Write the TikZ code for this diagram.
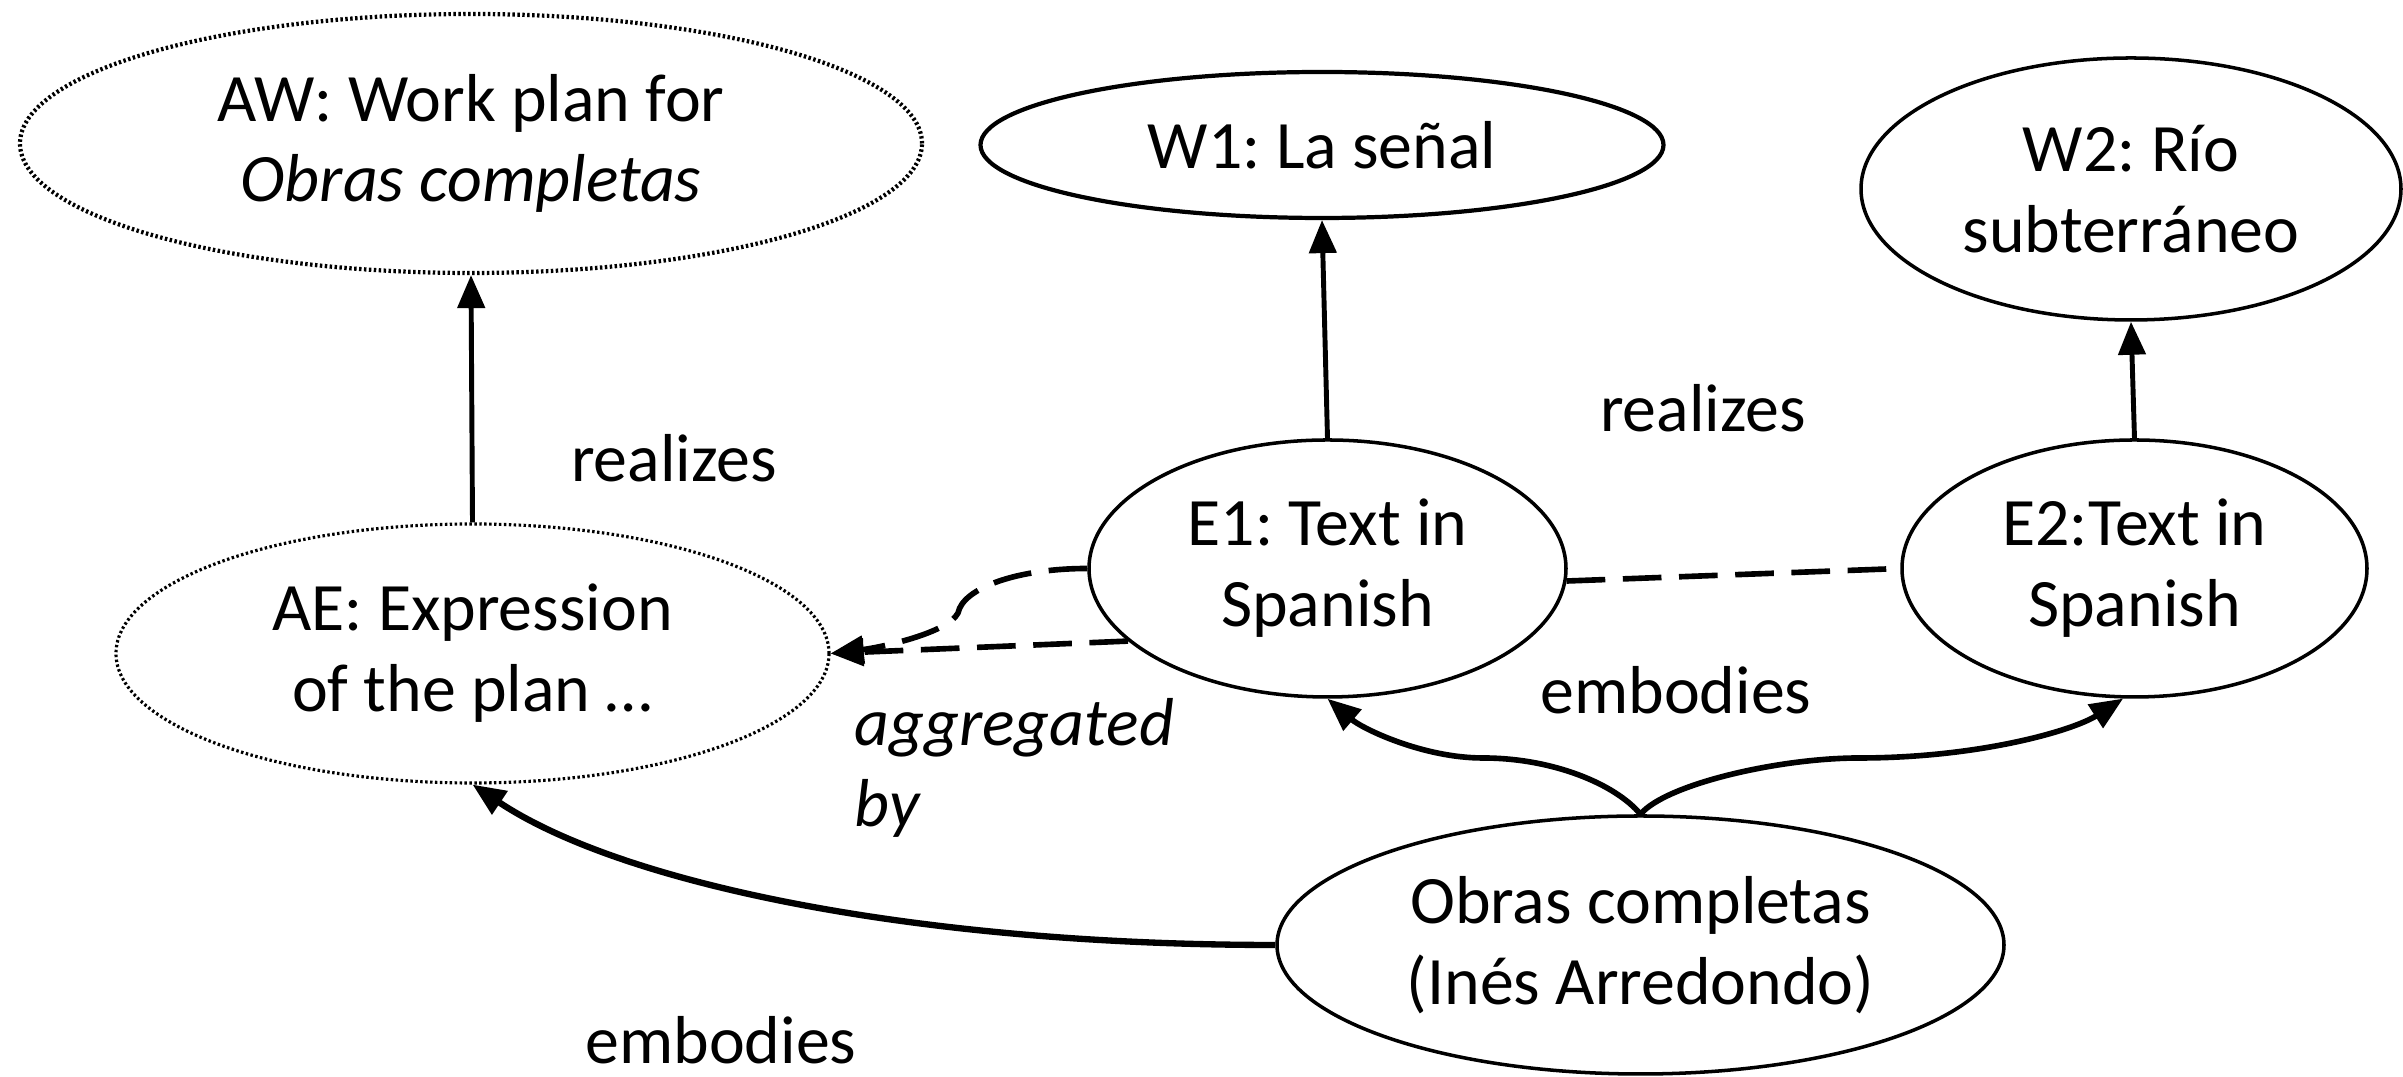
\documentclass[tikz,border=0pt]{standalone}
\usepackage{fontspec}
\setmainfont{Carlito}
\frenchspacing
\usetikzlibrary{shapes.geometric,arrows.meta,calc}

\begin{document}
\begin{tikzpicture}
[>={Triangle[length=3.3mm,width=2.7mm]},
 ent/.style={draw,ellipse,line width=1pt,inner sep=0pt,align=center,font=\fontsize{19.3}{23}\selectfont},
 plan/.style={ent,line width=1.2pt,dash pattern=on 0.7pt off 0.7pt},
 rel/.style={line width=1.4pt,->},
 agg/.style={line width=1.6pt,->,dash pattern=on 11pt off 5pt},
 lbl/.style={inner sep=0pt,font=\fontsize{19.3}{23}\selectfont},]

\useasboundingbox (0,0) rectangle (24.03,10.77);

%Works
\node (AW) at (4.71,9.335)[plan,minimum width=9.02cm,minimum height=2.59cm] {AW: Work plan for\\\textit{Obras completas}};
\node (W1) at (13.22,9.32)[ent,line width=1.2pt,minimum width=6.83cm,minimum height=1.46cm] {W1: La señal};
\node (W2) at (21.31,8.88)[ent,minimum width=5.40cm,minimum height=2.62cm] {W2: Río\\subterráneo};

%Expressions
\node (AE) at (4.725,4.235)[plan,line width=0.9pt,minimum width=7.13cm,minimum height=2.59cm] {AE: Expression\\of the plan …};
\node (E1) at (13.275,5.085)[ent,minimum width=4.77cm,minimum height=2.57cm] {E1: Text in\\Spanish};
\node (E2) at (21.345,5.085)[ent,minimum width=4.65cm,minimum height=2.57cm] {E2:Text in\\Spanish};

%Manifestation
\node (OC) at (16.405,1.32)[ent,minimum width=7.27cm,minimum height=2.58cm] {Obras completas\\(Inés Arredondo)};

%Labels
\node (r1) at (6.74,6.19)[lbl] {realizes};
\node (r2) at (17.03,6.69)[lbl] {realizes};
\node (e1) at (16.76,3.87)[lbl] {embodies};
\node (e2) at (7.21,0.37)[lbl] {embodies};
\node (ab) at (8.54,3.79)[lbl,anchor=north west,align=left,font=\fontsize{19.3}{23}\selectfont\itshape] {aggregated\\by};

%Realizes
\draw[rel] (AE.north) -- (AW.south);
\draw[rel] (E1.north) -- (W1.south);
\draw[rel] (E2.north) -- (W2.south);

%Aggregated by
\coordinate (kink) at (9.58,4.64);
\draw[agg] (E1.west) .. controls +(-0.7,0) and +(0.05,0.25) .. (kink)
  .. controls +(-0.1,-0.2) and +(0.5,0.06) .. (AE.east);
\draw[agg] (E1.200) -- (AE.east);
\draw[agg,-] (E1.-3) -- (E2.west);

%Embodies
\coordinate (m1) at (14.83,3.19);
\coordinate (m2) at (18.59,3.19);
\draw[rel,line width=1.8pt] (OC.west) .. controls +(-3.57,0) and +(1.5,-1.0) .. (AE.south);
\draw[rel,line width=1.6pt] (OC.north) .. controls +(-0.25,0.3) and +(0.7,0) .. (m1)
  .. controls +(-0.6,0) and +(0.35,-0.3) .. (E1.south);
\draw[rel,line width=1.6pt] (OC.north) .. controls +(0.25,0.3) and +(-0.8,0) .. (m2)
  .. controls +(1.2,0) and +(-0.5,-0.32) .. (E2.265);
\end{tikzpicture}
\end{document}
